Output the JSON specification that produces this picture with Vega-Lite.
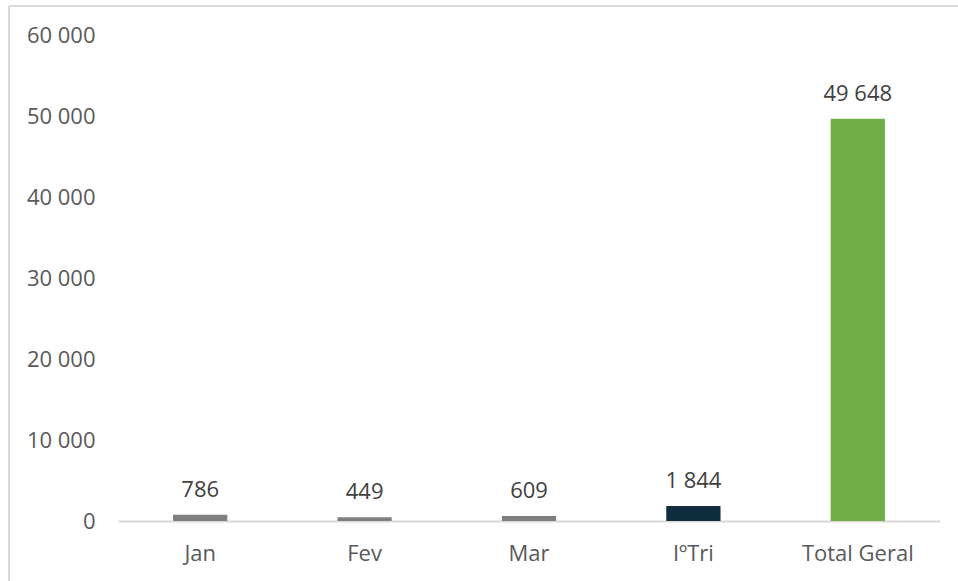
{
  "$schema": "https://vega.github.io/schema/vega-lite/v6.json",
  "width": 949,
  "height": 575,
  "autosize": "none",
  "padding": {"left": 9, "top": 6, "right": 0, "bottom": 0},
  "background": "white",
  "config": {
    "font": "Open Sans",
    "locale": {
      "number": {"decimal": ",", "thousands": " ", "grouping": [3], "currency": ["", " €"]}
    },
    "view": {"stroke": "#d9d9d9", "strokeWidth": 2, "strokeDash": [949, 1524, 575, 0]}
  },
  "data": {
    "values": [
      {"periodo": "Jan", "valor": 786, "grupo": "mes"},
      {"periodo": "Fev", "valor": 449, "grupo": "mes"},
      {"periodo": "Mar", "valor": 609, "grupo": "mes"},
      {"periodo": "IºTri", "valor": 1844, "grupo": "trimestre"},
      {"periodo": "Total Geral", "valor": 49648, "grupo": "total"}
    ]
  },
  "encoding": {
    "x": {
      "field": "periodo",
      "type": "nominal",
      "sort": null,
      "scale": {"range": [109, 931], "paddingInner": 0.67, "paddingOuter": 0.335},
      "axis": {
        "title": null,
        "offset": -60,
        "labelAngle": 0,
        "labelFontSize": 22,
        "labelColor": "#595959",
        "labelPadding": 22,
        "ticks": false,
        "tickSize": 0,
        "domainColor": "#d9d9d9",
        "domainWidth": 2,
        "grid": false
      }
    },
    "y": {
      "field": "valor",
      "type": "quantitative",
      "scale": {"domain": [0, 60000], "range": [515, 29], "nice": false},
      "axis": {
        "title": null,
        "offset": -109,
        "values": [0, 10000, 20000, 30000, 40000, 50000, 60000],
        "format": ",d",
        "labelFontSize": 22,
        "labelColor": "#595959",
        "labelPadding": 23,
        "ticks": false,
        "tickSize": 0,
        "domain": false,
        "grid": false
      }
    }
  },
  "layer": [
    {
      "mark": {"type": "bar"},
      "encoding": {
        "color": {
          "field": "grupo",
          "type": "nominal",
          "scale": {"domain": ["mes", "trimestre", "total"], "range": ["#7f7f7f", "#0f2d3e", "#70ad47"]},
          "legend": null
        }
      }
    },
    {
      "mark": {"type": "text", "baseline": "alphabetic", "dy": -18, "fontSize": 22, "color": "#404040"},
      "encoding": {
        "text": {"field": "valor", "type": "quantitative", "format": ",d"}
      }
    }
  ]
}
